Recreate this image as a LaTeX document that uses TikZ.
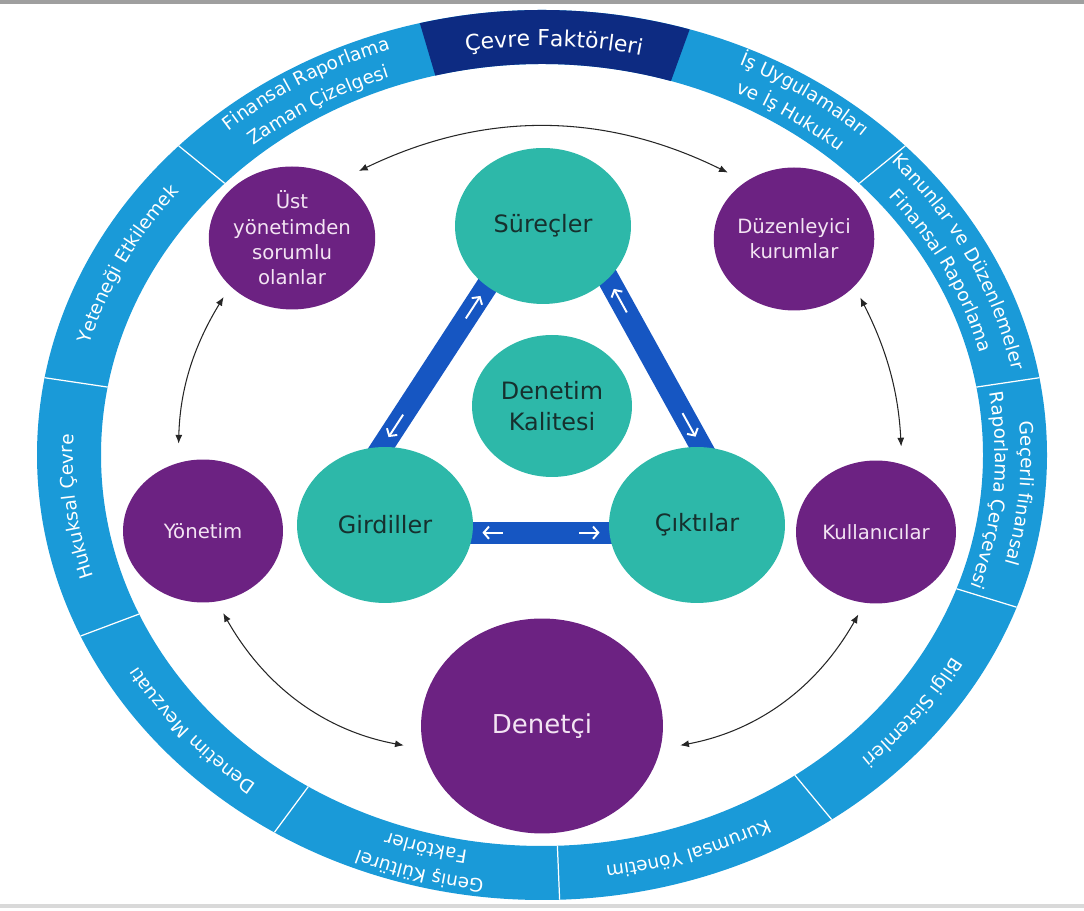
\documentclass[tikz,border=0pt]{standalone}
\usepackage{fontspec}
\setmainfont{DejaVu Sans}
\usetikzlibrary{shapes.geometric,arrows.meta,calc,decorations.text,backgrounds}

\definecolor{ringblue}{HTML}{1A9AD8}
\definecolor{ringnavy}{HTML}{0D2B82}
\definecolor{nodepurple}{HTML}{6C2282}
\definecolor{nodeteal}{HTML}{2DB8A9}
\definecolor{barblue}{HTML}{1656C2}
\definecolor{pinktext}{HTML}{F3E4F3}
\definecolor{darktext}{HTML}{16302E}

\newcommand{\ringfont}{\color{white}\fontsize{10.5}{12}\selectfont}
\newcommand{\bigringfont}{\color{white}\fontsize{12.5}{14}\selectfont}

\tikzset{
  tealnode/.style={ellipse, fill=nodeteal, text=darktext, font=\fontsize{13.6}{17.6}\selectfont, align=center, inner sep=0pt, minimum width=3.52cm, minimum height=3.12cm},
  purplenode/.style={ellipse, fill=nodepurple, text=pinktext, font=\fontsize{11.2}{14.4}\selectfont, align=center, inner sep=0pt, minimum width=3.2cm, minimum height=2.86cm},
  bar/.style={line width=0.44cm, barblue, shorten <=-0.5cm, shorten >=-0.5cm},
  barArrow/.style={white, line width=1.1pt, -{Straight Barb[length=3pt,width=7pt]}},
  link/.style={line width=0.6pt, black!85, {Latex[length=5pt,width=4pt]}-{Latex[length=5pt,width=4pt]}},
  ringtext/.style={decorate, decoration={text along path, text align=center, text={#1}}},
  divider/.style={white, line width=0.7pt}
}

\begin{document}
\begin{tikzpicture}[x=0.02cm, y=0.02cm]
\useasboundingbox (0,0) rectangle (1084,911);
% page edges
\fill[gray!75] (0,907) rectangle (1084,911);
\fill[gray!30] (0,3) rectangle (1084,7);

% outer ring
\begin{scope}[shift={(542,456)}]
\fill[ringblue, even odd rule] (0,0) ellipse [x radius=505, y radius=445] (0,0) ellipse [x radius=441, y radius=391];
\fill[ringnavy] (73:505 and 445) arc[start angle=73, end angle=104, x radius=505, y radius=445] -- (104:441 and 391) arc[start angle=104, end angle=73, x radius=441, y radius=391] -- cycle;
\draw[divider] (10:441 and 391) -- (10:505 and 445);
\draw[divider] (44:441 and 391) -- (44:505 and 445);
\draw[divider] (136:441 and 391) -- (136:505 and 445);
\draw[divider] (170:441 and 391) -- (170:505 and 445);
\draw[divider] (204:441 and 391) -- (204:505 and 445);
\draw[divider] (238:441 and 391) -- (238:505 and 445);
\draw[divider] (272:441 and 391) -- (272:505 and 445);
\draw[divider] (305:441 and 391) -- (305:505 and 445);
\draw[divider] (340:441 and 391) -- (340:505 and 445);
% ring labels, clockwise
\path[ringtext={|\bigringfont|Çevre Faktörleri}] (112:461 and 409) arc[start angle=112, end angle=65, x radius=461, y radius=409];
\path[ringtext={|\ringfont|İş Uygulamaları}] (79:479 and 428) arc[start angle=79, end angle=34, x radius=479, y radius=428];
\path[ringtext={|\ringfont|ve İş Hukuku}] (79:453 and 401) arc[start angle=79, end angle=34, x radius=453, y radius=401];
\path[ringtext={|\ringfont|Kanunlar ve Düzenlemeler}] (52:479 and 428) arc[start angle=52, end angle=2, x radius=479, y radius=428];
\path[ringtext={|\ringfont|Finansal Raporlama}] (52:453 and 401) arc[start angle=52, end angle=2, x radius=453, y radius=401];
\path[ringtext={|\ringfont|Geçerli finansal}] (18:479 and 428) arc[start angle=18, end angle=-28, x radius=479, y radius=428];
\path[ringtext={|\ringfont|Raporlama Çerçevesi}] (18:453 and 401) arc[start angle=18, end angle=-28, x radius=453, y radius=401];
\path[ringtext={|\ringfont|Bilgi Sistemleri}] (-12:469 and 415) arc[start angle=-12, end angle=-63, x radius=469, y radius=415];
\path[ringtext={|\ringfont|Kurumsal Yönetim}] (-47:469 and 415) arc[start angle=-47, end angle=-96, x radius=469, y radius=415];
\path[ringtext={|\ringfont|Geniş Kültürel}] (-80:479 and 428) arc[start angle=-80, end angle=-130, x radius=479, y radius=428];
\path[ringtext={|\ringfont|Faktörler}] (-80:453 and 401) arc[start angle=-80, end angle=-130, x radius=453, y radius=401];
\path[ringtext={|\ringfont|Denetim Mevzuatı}] (-114:469 and 415) arc[start angle=-114, end angle=-164, x radius=469, y radius=415];
\path[ringtext={|\ringfont|Hukuksal Çevre}] (212:469 and 415) arc[start angle=212, end angle=162, x radius=469, y radius=415];
\path[ringtext={|\ringfont|Yeteneği Etkilemek}] (178:469 and 415) arc[start angle=178, end angle=128, x radius=469, y radius=415];
\path[ringtext={|\ringfont|Finansal Raporlama}] (144:479 and 428) arc[start angle=144, end angle=96, x radius=479, y radius=428];
\path[ringtext={|\ringfont|Zaman Çizelgesi}] (144:453 and 401) arc[start angle=144, end angle=96, x radius=453, y radius=401];
\end{scope}

% audit quality triangle
\node[tealnode] (sure) at (543,685) {Süreçler};
\node[tealnode, minimum width=3.2cm, minimum height=2.84cm] (kal) at (552,505) {Denetim\\Kalitesi};
\node[tealnode] (gird) at (385,386) {Girdiller};
\node[tealnode] (cikt) at (697,386) {Çıktılar};

% stakeholders
\node[purplenode] (ust) at (292,673) {Üst\\yönetimden\\sorumlu\\olanlar};
\node[purplenode] (duz) at (794,672) {Düzenleyici\\kurumlar};
\node[purplenode] (yon) at (203,380) {Yönetim};
\node[purplenode] (kull) at (876,379) {Kullanıcılar};
\node[purplenode, minimum width=4.84cm, minimum height=4.3cm, font=\fontsize{14.8}{18}\selectfont] (den) at (542,185) {Denetçi};

\begin{pgfonlayer}{background}
\draw[bar] (gird.92) -- (sure.227);
\draw[bar] (sure.-39) -- (cikt.87);
\draw[bar] (gird.-5) -- (cikt.185);
\end{pgfonlayer}
\draw[barArrow] ($(gird.92)!0.2!(sure.227)$) -- ($(gird.92)!0.06!(sure.227)$);
\draw[barArrow] ($(gird.92)!0.8!(sure.227)$) -- ($(gird.92)!0.94!(sure.227)$);
\draw[barArrow] ($(sure.-39)!0.2!(cikt.87)$) -- ($(sure.-39)!0.06!(cikt.87)$);
\draw[barArrow] ($(sure.-39)!0.8!(cikt.87)$) -- ($(sure.-39)!0.94!(cikt.87)$);
\draw[barArrow] ($(gird.-5)!0.22!(cikt.185)$) -- ($(gird.-5)!0.07!(cikt.185)$);
\draw[barArrow] ($(gird.-5)!0.78!(cikt.185)$) -- ($(gird.-5)!0.93!(cikt.185)$);

% thin links
\draw[link, shorten <=0.4cm, shorten >=0.4cm] (ust.50) to[bend left=26] (duz.130);
\draw[link, shorten <=0.25cm, shorten >=0.38cm] (ust.218) to[bend right=15] (yon.110);
\draw[link, shorten <=0.25cm, shorten >=0.35cm] (duz.322) to[bend left=12] (kull.69);
\draw[link, shorten <=0.26cm, shorten >=0.4cm] (yon.281) to[bend right=25] (den.191);
\draw[link, shorten <=0.26cm, shorten >=0.4cm] (kull.261) to[bend left=25] (den.349);
\end{tikzpicture}
\end{document}
